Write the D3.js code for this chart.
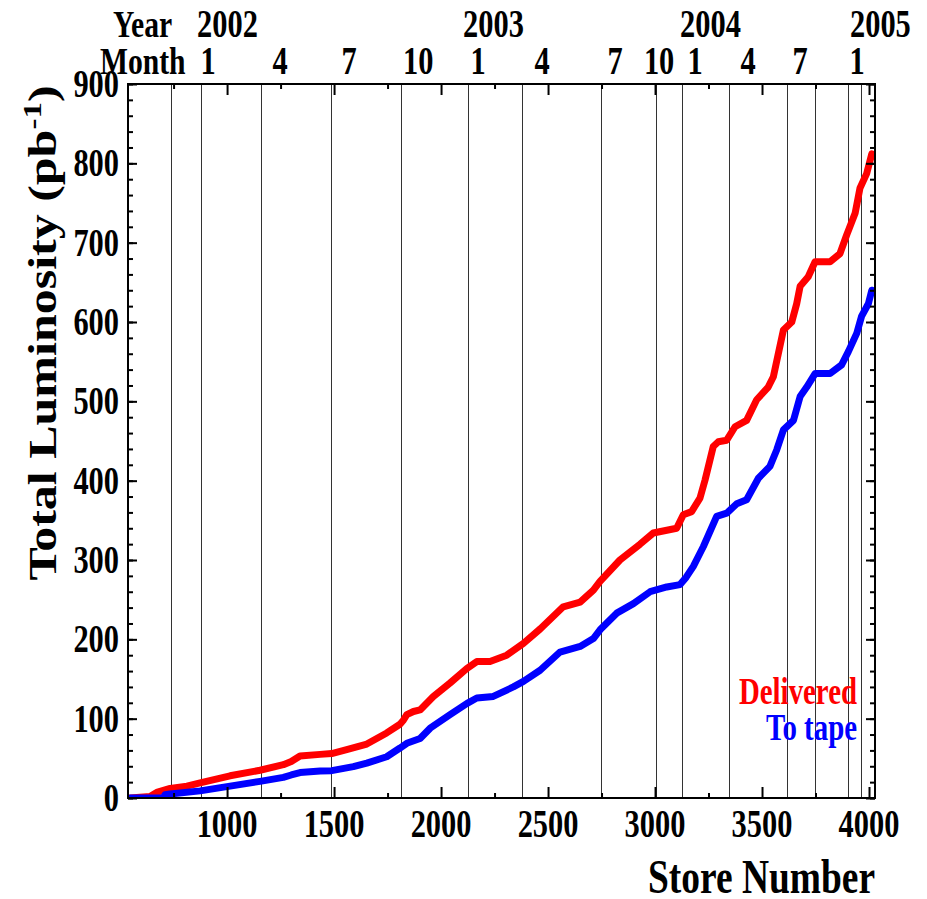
<!DOCTYPE html>
<html>
<head>
<meta charset="utf-8">
<script src="https://cdn.jsdelivr.net/npm/d3@7"></script>
<style>
  html, body { margin: 0; padding: 0; background: #fff; }
  svg { display: block; }
  text { font-family: "Liberation Serif", "Times New Roman", serif; font-weight: bold; }
</style>
</head>
<body>
<svg id="chart" width="927" height="899"></svg>
<script>
// ---------------- data ----------------
const deliveredStore = [547, 640, 671, 734, 812, 874, 1014, 1154, 1263, 1300, 1341, 1435, 1489, 1559, 1653, 1746, 1808, 1824, 1840, 1871, 1902, 1964, 2042, 2120, 2167, 2229, 2307, 2385, 2463, 2571, 2650, 2712, 2743, 2836, 2930, 2992, 3101, 3132, 3171, 3210, 3234, 3272, 3296, 3335, 3374, 3428, 3475, 3529, 3553, 3600, 3639, 3662, 3678, 3716, 3748, 3818, 3864, 3896, 3935, 3958, 3989, 4013];
const deliveredLumi  = [0, 2, 7, 12, 15, 19, 28, 35, 42, 46, 53, 55, 56, 61, 68, 82, 93, 98, 105, 109, 111, 128, 145, 163, 172, 172, 180, 195, 213, 241, 247, 262, 273, 300, 320, 334, 340, 357, 361, 378, 401, 443, 449, 451, 468, 476, 502, 518, 531, 590, 600, 623, 645, 657, 676, 676, 686, 710, 737, 769, 787, 812];

const tapeStore = [547, 701, 710, 734, 874, 1014, 1154, 1263, 1300, 1341, 1435, 1489, 1590, 1653, 1746, 1808, 1840, 1902, 1949, 2042, 2120, 2167, 2244, 2338, 2385, 2463, 2556, 2650, 2712, 2743, 2821, 2899, 2977, 3055, 3117, 3145, 3179, 3226, 3288, 3335, 3382, 3428, 3483, 3537, 3569, 3600, 3647, 3678, 3709, 3748, 3818, 3872, 3904, 3943, 3965, 3997, 4013];
const tapeLumi  = [0, 0, 4, 5, 9, 15, 21, 26, 29, 32, 34, 34.5, 39.5, 44, 52, 63, 69, 75, 88, 105, 119, 126, 128, 140, 147, 161, 184, 191, 201, 212, 233, 245, 260, 266, 269, 278, 292, 317, 355, 359, 371, 376, 403, 418, 439, 464, 476, 506, 518, 535, 535, 546, 563, 586, 607, 623, 640];

const xMajorTicks = [1000, 1500, 2000, 2500, 3000, 3500, 4000];
const xMinorTicks = [750, 1250, 1750, 2250, 2750, 3250, 3750];
const yMajorTicks = [0, 100, 200, 300, 400, 500, 600, 700, 800, 900];
const yMinorTicks = d3.range(0, 901, 20);

const monthLineStores  = [739, 877, 1157, 1488, 1813, 2126, 2379, 2746, 3006, 3126, 3344, 3617, 3749, 3901, 3962];
const monthLabels      = ["1", "4", "7", "10", "1", "4", "7", "10", "1", "4", "7", "1"];
const monthLabelStores = [911, 1248, 1570, 1893, 2173, 2472, 2813, 3019, 3187, 3435, 3678, 3944];
const yearLabels       = ["2002", "2003", "2004", "2005"];
const yearLabelStores  = [860, 2103, 3117, 3911];

const seriesNames  = ["Delivered", "To tape"];
const seriesColors = ["#ff0000", "#0000ff"];

// ---------------- layout ----------------
const L = 128, R = 875, T = 84, B = 798;
const SX = 0.78; // horizontal glyph compression
const svg = d3.select("#chart");

const x = d3.scaleLinear().domain([537, 4028]).range([L, R]);
const y = d3.scaleLinear().domain([0, 900]).range([B, T]);

svg.append("defs").append("clipPath").attr("id", "clip")
  .append("rect").attr("x", L).attr("y", T).attr("width", R - L).attr("height", B - T);

// month separator lines
svg.append("g").selectAll("line").data(monthLineStores).join("line")
  .attr("x1", d => Math.round(x(d)) + 0.5).attr("x2", d => Math.round(x(d)) + 0.5)
  .attr("y1", T).attr("y2", B)
  .attr("stroke", "#333").attr("stroke-width", 1);

// curves
const line = d3.line().x(d => x(d[0])).y(d => y(d[1]));
const series = [
  d3.zip(deliveredStore, deliveredLumi),
  d3.zip(tapeStore, tapeLumi)
];
const cg = svg.append("g").attr("clip-path", "url(#clip)");
series.forEach((s, i) => {
  cg.append("path").datum(s).attr("d", line)
    .attr("fill", "none").attr("stroke", seriesColors[i])
    .attr("stroke-width", 7).attr("stroke-linejoin", "round").attr("stroke-linecap", "round");
});

// axes ticks (inward on all four sides)
function tickAxis(axis, tr) {
  const g = svg.append("g").attr("transform", tr).call(axis);
  g.select(".domain").remove();
  g.selectAll("line").attr("stroke", "#000").attr("stroke-width", 2);
  g.selectAll("text").remove();
}
tickAxis(d3.axisBottom(x).tickValues(xMajorTicks).tickSize(-11).tickFormat(""), `translate(0,${B})`);
tickAxis(d3.axisBottom(x).tickValues(xMinorTicks).tickSize(-5).tickFormat(""), `translate(0,${B})`);
tickAxis(d3.axisTop(x).tickValues(xMajorTicks).tickSize(-11).tickFormat(""), `translate(0,${T})`);
tickAxis(d3.axisTop(x).tickValues(xMinorTicks).tickSize(-5).tickFormat(""), `translate(0,${T})`);
tickAxis(d3.axisLeft(y).tickValues(yMajorTicks).tickSize(-9).tickFormat(""), `translate(${L},0)`);
tickAxis(d3.axisLeft(y).tickValues(yMinorTicks).tickSize(-5).tickFormat(""), `translate(${L},0)`);
tickAxis(d3.axisRight(y).tickValues(yMajorTicks).tickSize(-9).tickFormat(""), `translate(${R},0)`);
tickAxis(d3.axisRight(y).tickValues(yMinorTicks).tickSize(-5).tickFormat(""), `translate(${R},0)`);

// frame
svg.append("rect").attr("x", L).attr("y", T).attr("width", R - L).attr("height", B - T)
  .attr("fill", "none").attr("stroke", "#000").attr("stroke-width", 2);

// text helper
function label(txt, px, py, size, anchor, color) {
  return svg.append("text")
    .attr("transform", `translate(${px},${py}) scale(${SX},1)`)
    .attr("text-anchor", anchor).attr("font-size", size)
    .attr("fill", color || "#000").text(txt);
}

// tick labels
xMajorTicks.forEach(v => label(d3.format("d")(v), x(v), 837, 39, "middle"));
yMajorTicks.forEach(v => label(d3.format("d")(v), 119, y(v) + 13, 39, "end"));

// top labels
label("Year", 113, 37, 38, "start");
label("Month", 100, 74, 38, "start");
yearLabels.forEach((t, i) => label(t, x(yearLabelStores[i]), 37, 39, "start"));
monthLabels.forEach((t, i) => label(t, x(monthLabelStores[i]), 74, 39, "middle"));

// legend
label(seriesNames[0], 857, 704, 37, "end", seriesColors[0]);
label(seriesNames[1], 857, 740, 37, "end", seriesColors[1]);

// axis titles
label("Store Number", 875, 893, 48, "end");
const yt = svg.append("text")
  .attr("transform", `translate(56,333) scale(${SX},1) rotate(-90)`)
  .attr("text-anchor", "middle").attr("font-size", 50);
yt.append("tspan").text("Total Luminosity (pb");
yt.append("tspan").attr("font-size", 33).attr("dy", -19).text("-1");
yt.append("tspan").attr("dy", 19).text(")");
</script>
</body>
</html>
